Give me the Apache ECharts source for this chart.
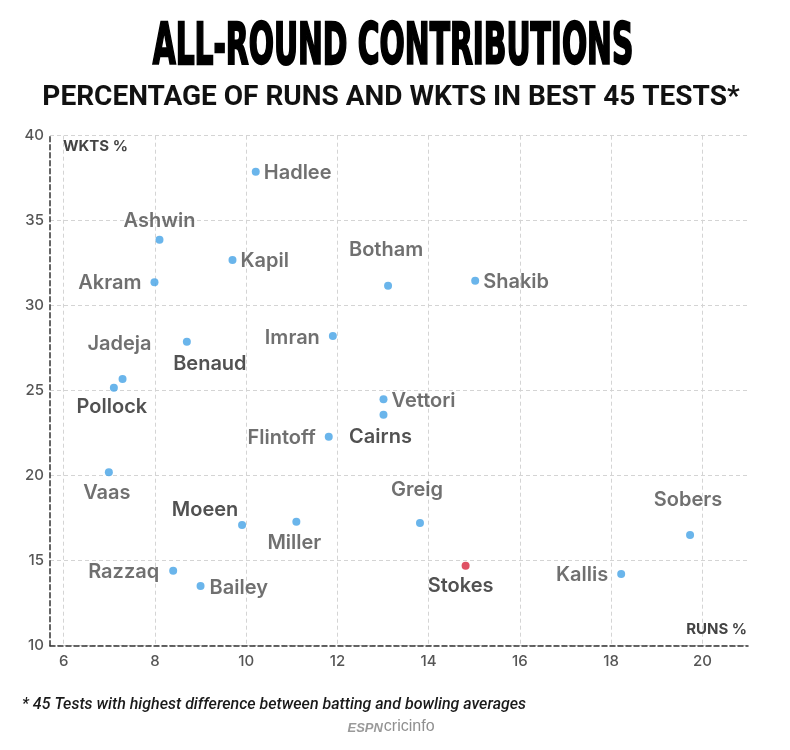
<!DOCTYPE html>
<html>
<head>
<meta charset="utf-8">
<script src="https://cdn.jsdelivr.net/npm/echarts@6/dist/echarts.min.js"></script>
<style>
html,body{margin:0;padding:0;background:#fff;}
#chart{width:790px;height:750px;}
</style>
</head>
<body>
<div id="chart"></div>
<script>
// ---- data ----
const players   = ['Hadlee','Ashwin','Kapil','Akram','Botham','Shakib','Benaud','Imran','Jadeja','Pollock','Vettori','Cairns','Flintoff','Vaas','Moeen','Miller','Greig','Sobers','Stokes','Razzaq','Bailey','Kallis'];
const runsPct   = [10.21, 8.10, 9.70, 7.99, 13.11, 15.02, 8.70, 11.90, 7.29, 7.10, 13.01, 13.01, 11.81, 6.99, 9.91, 11.10, 13.81, 19.73, 14.81, 8.40, 9.00, 18.22];
const wktsPct   = [37.88, 33.88, 32.69, 31.38, 31.18, 31.47, 27.88, 28.22, 25.69, 25.18, 24.49, 23.59, 22.29, 20.20, 17.10, 17.29, 17.22, 16.51, 14.71, 14.41, 13.51, 14.22];
const highlight = ['Stokes'];
const darkLabels = ['Benaud','Pollock','Cairns','Moeen','Stokes'];
const xTicks = [6, 8, 10, 12, 14, 16, 18, 20];
const yTicks = [10, 15, 20, 25, 30, 35, 40];

// ---- label layout (align, dx, dy relative to dot centre) ----
const labelLayout = {
  Hadlee:['left',8,1], Ashwin:['center',0,-19], Kapil:['left',8,1], Akram:['right',-13,1],
  Botham:['center',-2,-36], Shakib:['left',8,1], Benaud:['center',23,22], Imran:['right',-13,2],
  Jadeja:['center',-3,-35], Pollock:['center',-2,19], Vettori:['left',8,2], Cairns:['center',-3,22],
  Flintoff:['right',-13,1], Vaas:['center',-2,21], Moeen:['center',-37,-15], Miller:['center',-2,21],
  Greig:['center',-3,-33], Sobers:['center',-2,-35], Stokes:['center',-5,20], Razzaq:['right',-14,1],
  Bailey:['left',9,2], Kallis:['right',-13,1]
};

const FONT = 'Inter, "Noto Sans", sans-serif';
const BLUE = '#45a2e6', RED = '#d7263d';

const data = players.map((p, i) => {
  const L = labelLayout[p];
  return {
    name: p,
    value: [runsPct[i], wktsPct[i]],
    itemStyle: { color: highlight.includes(p) ? RED : BLUE },
    label: {
      align: L[0],
      offset: [L[1], L[2]],
      color: darkLabels.includes(p) ? '#252525' : '#4c4c4c'
    }
  };
});

const chart = echarts.init(document.getElementById('chart'), null, {renderer:'canvas'});
chart.setOption({
  backgroundColor: '#fff',
  animation: false,
  grid: { left: 50, right: 42, top: 135.7, bottom: 104.3, containLabel: false },
  xAxis: {
    type: 'value', min: 5.7, max: 21,
    name: 'RUNS %', nameLocation: 'end', nameGap: -1,
    nameTextStyle: { align: 'right', verticalAlign: 'bottom', padding: [0,0,9,0], color: '#444', fontFamily: FONT, fontWeight: 700, fontSize: 15 },
    axisLine: { show: true, lineStyle: { color: '#333', type: [5,3], width: 1.5 } },
    axisTick: { show: false, customValues: xTicks },
    axisLabel: { customValues: xTicks, color: '#555', fontFamily: FONT, fontSize: 15, fontWeight: 500, margin: 8 },
    splitLine: { show: true, lineStyle: { color: '#d4d4d4', type: [4,3], width: 1 } }
  },
  yAxis: {
    type: 'value', min: 10, max: 40, interval: 5,
    name: 'WKTS %', nameLocation: 'end', nameGap: -11,
    nameTextStyle: { align: 'left', verticalAlign: 'middle', padding: [0,0,0,13], color: '#444', fontFamily: FONT, fontWeight: 700, fontSize: 15 },
    axisLine: { show: true, lineStyle: { color: '#333', type: [5,3], width: 1.5 } },
    axisTick: { show: false },
    axisLabel: { color: '#555', fontFamily: FONT, fontSize: 15, fontWeight: 500, margin: 6 },
    splitLine: { show: true, lineStyle: { color: '#d4d4d4', type: [4,3], width: 1 } }
  },
  series: [{
    type: 'scatter',
    symbol: 'circle',
    symbolSize: 8,
    data: data,
    label: {
      show: true,
      position: 'inside',
      formatter: '{b}',
      verticalAlign: 'middle',
      fontFamily: FONT,
      fontSize: 20,
      fontWeight: 600
    }
  }],
  graphic: [
    { type: 'text', x: 393, y: 20, scaleY: 1.75,
      style: { text: 'ALL-ROUND CONTRIBUTIONS', align: 'center', verticalAlign: 'top',
               font: 'bold 33px "Liberation Sans Narrow", "DejaVu Sans Condensed", sans-serif',
               fill: '#000', stroke: '#000', lineWidth: 1.3 } },
    { type: 'text', x: 391, y: 84,
      style: { text: 'PERCENTAGE OF RUNS AND WKTS IN BEST 45 TESTS*', align: 'center', verticalAlign: 'top',
               font: 'bold 28px Roboto, sans-serif', fill: '#111' } },
    { type: 'text', x: 22, y: 705,
      style: { text: '* 45 Tests with highest difference between batting and bowling averages', align: 'left', verticalAlign: 'middle',
               font: 'italic 500 16px Roboto, sans-serif', fill: '#1a1a1a' } },
    { type: 'text', x: 391, y: 727,
      style: { text: '{e|ESPN}{c|cricinfo}', align: 'center', verticalAlign: 'middle',
               rich: {
                 e: { font: 'italic bold 13px "Liberation Sans Narrow", sans-serif', fill: '#9a9a9a', padding:[2,1,0,0] },
                 c: { font: '16px "Liberation Sans Narrow", sans-serif', fill: '#8f8f8f' }
               } } }
  ]
});
</script>
</body>
</html>
